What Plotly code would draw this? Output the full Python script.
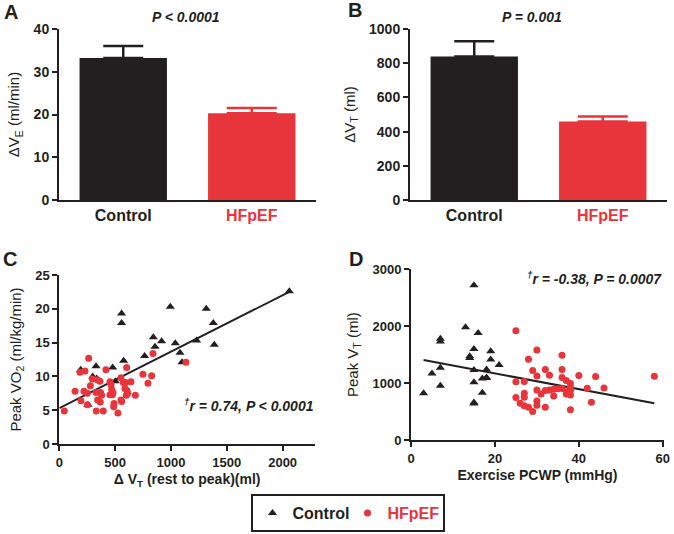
import plotly.graph_objects as go

W, H = 674, 534
BLACK = "#231f20"
RED = "#e8343b"
FONT = "Liberation Sans, Arial, sans-serif"

# ---------------- data ----------------
groups = ["Control", "HFpEF"]
group_labels = ["Control", "<span style='color:#e8343b'>HFpEF</span>"]

ve_mean = [33.2, 20.3]
ve_err = [2.8, 1.2]
vt_mean = [839, 459]
vt_err = [90, 30]

# Panel C: delta VT (rest to peak) vs peak VO2
c_ctrl_x = [191, 299, 335, 257, 329, 478, 502, 576, 558, 558, 764, 842, 857, 916,
            994, 1039, 1081, 1099, 1230, 1316, 1379, 1388, 2060]
c_ctrl_y = [11.0, 10.0, 9.7, 5.8, 11.5, 11.3, 9.3, 12.3, 19.3, 17.9, 13.0, 15.8, 14.4, 15.2,
            20.3, 14.9, 13.5, 12.1, 15.3, 20.0, 17.9, 14.7, 22.6]
c_hf_x = [45, 141, 194, 185, 230, 263, 221, 251, 278, 251, 296, 340, 364, 329, 370, 343, 367,
          331, 394, 379, 418, 454, 469, 454, 481, 487, 525, 552, 552, 573, 594, 603, 606, 600,
          642, 558, 681, 749, 794, 827, 839, 475, 463, 490, 588, 612, 1134]
c_hf_y = [4.9, 7.8, 6.4, 10.6, 10.8, 12.7, 7.8, 7.5, 8.6, 5.8, 9.6, 9.5, 9.3, 7.6, 7.6, 6.5, 6.2,
          4.9, 4.9, 7.2, 11.0, 9.2, 8.1, 7.3, 7.6, 5.5, 4.6, 6.5, 9.8, 9.1, 9.1, 11.3, 7.9, 7.2,
          9.2, 6.3, 7.2, 10.3, 9.0, 10.1, 13.4, 7.3, 8.8, 6.0, 8.2, 7.5, 12.1]
c_fit_x = [0, 2060]
c_fit_y = [5.3, 22.5]

# Panel D: exercise PCWP vs peak VT
d_ctrl_x = [3, 5, 7, 7, 7, 7, 13, 14, 14, 15, 15, 15, 15, 15, 15, 16, 17, 17, 18, 18, 18, 19, 19, 21]
d_ctrl_y = [820, 1170, 1780, 1730, 1270, 955, 1980, 1470, 1440, 2720, 1600, 1230, 1015, 660, 640,
            1880, 1080, 830, 1100, 1240, 1090, 1560, 1415, 1320]
d_hf_x = [25, 25, 25, 26, 27, 27, 27, 27, 28, 28, 29, 29, 30, 30, 30, 30, 30, 31, 32, 32, 32, 33,
          33, 34, 34, 35, 36, 36, 36, 36, 37, 37, 37, 38, 38, 38, 38, 38, 40, 42, 43, 44, 46, 58]
d_hf_y = [1920, 1025, 745, 645, 1030, 820, 750, 600, 1420, 575, 1220, 500, 1580, 1125, 880, 685,
          610, 808, 1240, 870, 575, 1140, 880, 890, 775, 900, 1490, 1240, 1100, 905, 1045, 850,
          808, 995, 920, 870, 790, 530, 1135, 910, 665, 1115, 915, 1120]
d_fit_x = [3, 58]
d_fit_y = [1405, 645]

# ---------------- figure ----------------
fig = go.Figure()

BAR_W = 0.68

def bar(xa, ya, means, errs):
    for i, g in enumerate(groups):
        col = BLACK if i == 0 else RED
        fig.add_trace(go.Bar(
            x=[g], y=[means[i]], xaxis=xa, yaxis=ya, width=BAR_W, offset=-BAR_W / 2,
            marker=dict(color=col, line=dict(width=0)),
            error_y=dict(type="data", symmetric=False, array=[errs[i]], arrayminus=[0],
                         color=col, thickness=2.5, width=20 if i == 0 else 25),
            showlegend=False, hoverinfo="y"))

bar("x", "y", ve_mean, ve_err)
bar("x2", "y2", vt_mean, vt_err)

# Panel C
fig.add_trace(go.Scatter(x=c_fit_x, y=c_fit_y, mode="lines", xaxis="x3", yaxis="y3",
                         line=dict(color=BLACK, width=2), showlegend=False))
fig.add_trace(go.Scatter(x=c_ctrl_x, y=c_ctrl_y, mode="markers", xaxis="x3", yaxis="y3",
                         name="Control", legendrank=1,
                         marker=dict(symbol="triangle-up", size=8, color=BLACK)))
fig.add_trace(go.Scatter(x=c_hf_x, y=c_hf_y, mode="markers", xaxis="x3", yaxis="y3",
                         name="<span style='color:#e8343b'>HFpEF</span>", legendrank=2,
                         marker=dict(symbol="circle", size=7, color=RED)))
# Panel D
fig.add_trace(go.Scatter(x=d_fit_x, y=d_fit_y, mode="lines", xaxis="x4", yaxis="y4",
                         line=dict(color=BLACK, width=2), showlegend=False))
fig.add_trace(go.Scatter(x=d_ctrl_x, y=d_ctrl_y, mode="markers", xaxis="x4", yaxis="y4",
                         showlegend=False,
                         marker=dict(symbol="triangle-up", size=8, color=BLACK)))
fig.add_trace(go.Scatter(x=d_hf_x, y=d_hf_y, mode="markers", xaxis="x4", yaxis="y4",
                         showlegend=False,
                         marker=dict(symbol="circle", size=7, color=RED)))

def fx(px):
    return px / W

def fy(py):
    return 1 - py / H

ax_common = dict(showgrid=False, zeroline=False, showline=True, linecolor=BLACK, linewidth=2,
                 ticks="outside", ticklen=5, tickwidth=1.5, tickcolor=BLACK, automargin=False,
                 tickfont=dict(family=FONT, size=13, color=BLACK, weight="bold"))

ytitle_font = dict(family=FONT, size=15, color=BLACK)
xtitle_font = dict(family=FONT, size=14, color=BLACK, weight="bold")

fig.update_layout(
    width=W, height=H, margin=dict(l=0, r=0, t=0, b=0, autoexpand=False),
    paper_bgcolor="white", plot_bgcolor="white", barmode="overlay",
    font=dict(family=FONT, color=BLACK),
    xaxis=dict(ax_common, domain=[fx(59), fx(316)], anchor="y", type="category",
               range=[-0.5, 1.5], tickvals=groups, ticktext=group_labels, ticks="",
               tickfont=dict(family=FONT, size=16, color=BLACK, weight="bold")),
    yaxis=dict(ax_common, domain=[fy(200), fy(29)], anchor="x", range=[0, 40],
               tickvals=[0, 10, 20, 30, 40],
               tickfont=dict(family=FONT, size=14, color=BLACK, weight="bold"),
               title=dict(text="ΔV<sub>E</sub> (ml/min)", font=ytitle_font, standoff=10)),
    xaxis2=dict(ax_common, domain=[fx(410), fx(667)], anchor="y2", type="category",
                range=[-0.5, 1.5], tickvals=groups, ticktext=group_labels, ticks="",
                tickfont=dict(family=FONT, size=16, color=BLACK, weight="bold")),
    yaxis2=dict(ax_common, domain=[fy(200), fy(29)], anchor="x2", range=[0, 1000],
                tickvals=[0, 200, 400, 600, 800, 1000],
                tickfont=dict(family=FONT, size=14, color=BLACK, weight="bold"),
                title=dict(text="ΔV<sub>T</sub> (ml)", font=ytitle_font, standoff=10)),
    xaxis3=dict(ax_common, domain=[fx(59.3), fx(315)], anchor="y3", range=[0, 2290],
                tickvals=[0, 500, 1000, 1500, 2000],
                title=dict(text="Δ V<sub>T</sub> (rest to peak)(ml)", font=xtitle_font, standoff=6)),
    yaxis3=dict(ax_common, domain=[fy(444), fy(275)], anchor="x3", range=[0, 25],
                tickvals=[0, 5, 10, 15, 20, 25],
                title=dict(text="Peak VO<sub>2</sub> (ml/kg/min)", font=ytitle_font, standoff=10)),
    xaxis4=dict(ax_common, domain=[fx(411), fx(664)], anchor="y4", range=[0, 60.3],
                tickvals=[0, 20, 40, 60],
                title=dict(text="Exercise PCWP (mmHg)", font=xtitle_font, standoff=6)),
    yaxis4=dict(ax_common, domain=[fy(440), fy(269.3)], anchor="x4", range=[0, 3000],
                tickvals=[0, 1000, 2000, 3000],
                title=dict(text="Peak V<sub>T</sub> (ml)", font=ytitle_font, standoff=10)),
    legend=dict(orientation="h", x=fx(347.5), xanchor="center", y=fy(494), yanchor="top",
                bordercolor=BLACK, borderwidth=2, bgcolor="white", itemwidth=30,
                entrywidth=50, entrywidthmode="pixels",
                font=dict(family=FONT, size=16, color=BLACK, weight="bold"),
                traceorder="normal"),
)

def ann(text, px, py, size, italic=False, bold=True, xanchor="center", color=BLACK):
    fig.add_annotation(text=text, x=fx(px), y=fy(py), xref="paper", yref="paper",
                       xanchor=xanchor, yanchor="middle", showarrow=False,
                       font=dict(family=FONT, size=size, color=color,
                                 weight="bold" if bold else "normal",
                                 style="italic" if italic else "normal"))

ann("A", 2, 12, 20, xanchor="left")
ann("B", 346, 10, 20, xanchor="left")
ann("C", 1, 259, 20, xanchor="left")
ann("D", 347, 259, 20, xanchor="left")
ann("P < 0.0001", 186, 17, 14, italic=True)
ann("P = 0.001", 532, 17, 14, italic=True)
ann("<sup>†</sup>r = 0.74, P < 0.0001", 316, 405, 14, italic=True, xanchor="right")
ann("<sup>†</sup>r = -0.38, P = 0.0007", 664, 278, 14, italic=True, xanchor="right")

fig.write_html("out.html", config={"displayModeBar": False},
               post_script="document.body.style.margin='0';document.body.style.overflow='hidden';")
